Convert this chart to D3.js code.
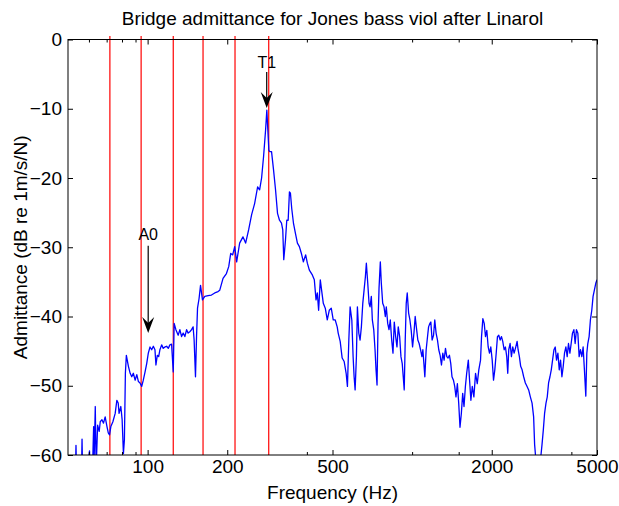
<!DOCTYPE html>
<html><head><meta charset="utf-8">
<script src="https://cdn.jsdelivr.net/npm/d3@7/dist/d3.min.js"></script>
<style>
body{margin:0;background:#fff}
text{font-family:Arial,"Liberation Sans",Helvetica,sans-serif;fill:#000}
</style></head>
<body><svg id="chart" width="619" height="506"></svg>
<script>
// ---- data ----
const freqHz = [
50,51.9,53.3,53.6,53.9,56.2,56.5,56.8,58.6,60.3,60.7,61.9,62.5,62.8,63.4,63.9,64.7,65.6,66.2,67.2,
68.1,69.1,70.2,71.0,71.8,72.6,73.9,75.4,76.5,77.4,78.0,79.2,80.1,81.0,81.7,82.4,83.1,84.6,85.9,87.1,
88.3,89.7,91.0,92.3,93.6,95.0,96.3,97.8,99.2,100.6,102.1,103.6,105.1,106.6,107.5,108.8,110.1,111.3,113.0,114.6,
116.3,118.0,119.7,121.4,123.2,125.0,126.0,127.9,130.5,132.4,134.4,136.3,138.3,140.4,142.3,144.4,146.6,148.6,149.9,151.7,
153.1,154.4,156.5,158.5,161.2,164.5,169.3,174.3,179.4,184.6,187.4,192.8,198.6,202.6,206.1,209.7,213.4,217.1,222.8,229.3,
234.7,240.9,247.3,253.8,260.5,265.1,269.7,274.4,279.2,282.3,284.8,287.3,289.8,294.1,299.2,304.5,309.8,315.2,320.7,324.3,
327.1,332.0,335.8,339.9,343.7,346.7,350.6,355.9,362.1,368.4,374.8,381.4,388.0,395.8,401.7,408.7,419.5,426.8,433.2,438.1,
443.1,449.6,454.7,461.5,469.5,477.7,486.1,494.6,503.2,512.0,520.9,525.4,534.6,543.9,553.4,563.1,569.4,576.4,582.9,591.6,
598.3,603.5,608.8,615.7,621.0,628.6,635.7,642.9,650.8,658.2,665.6,671.4,679.6,687.3,693.3,701.2,707.3,716.0,724.1,730.4,
736.8,743.2,749.7,758.2,764.8,774.1,782.9,791.8,798.7,808.5,817.6,826.9,837.0,846.5,856.1,866.5,876.4,886.3,897.1,907.3,
917.6,925.6,933.6,941.8,950.0,958.3,970.0,981.0,992.1,1004,1016,1027,1040,1051,1063,1076,1089,1098,1108,1117,
1130,1140,1154,1167,1177,1190,1205,1218,1232,1247,1261,1276,1291,1306,1321,1337,1352,1367,1384,1400,
1415,1433,1449,1465,1483,1500,1517,1535,1553,1571,1590,1608,1631,1649,1668,1688,1712,1737,1763,1787,
1814,1830,1851,1873,1894,1916,1939,1961,1984,2008,2031,2054,2079,2102,2126,2152,2177,2201,2228,2253,
2279,2299,2319,2347,2374,2401,2430,2458,2494,2516,2544,2573,2605,2641,2680,2720,2758,2799,2841,2880,
2905,2941,2974,3008,3052,3098,3133,3168,3207,3243,3280,3320,3358,3396,3437,3476,3515,3558,3599,3640,
3684,3726,3768,3814,3857,3901,3949,3993,4039,4088,4134,4181,4232,4280,4329,4381,4431,4481,4536,4576,
4615,4668,4721,4778,4832,4887,4947,5000
];
const admittanceDb = [
-63,-63,-63,-58.6,-63,-63,-57.7,-63,-63,-59.4,-63,-62,-55.9,-60.5,-53.0,-62,-55.7,-56.6,-55.2,-54.9,
-55.4,-54.5,-55.9,-56.8,-57.1,-55.9,-55.2,-54.0,-52.1,-52.5,-54.0,-53.0,-54.9,-59.8,-57.8,-48.2,-45.6,-47.2,-48.2,-48.7,
-48.2,-49.2,-48.4,-49.4,-49.6,-50.1,-49.2,-48.0,-46.8,-45.3,-44.4,-44.8,-44.3,-44.8,-47.0,-45.6,-45.8,-44.8,-44.1,-44.6,
-44.4,-44.3,-44.6,-44.1,-44.0,-48.0,-41.0,-41.9,-42.7,-41.9,-42.9,-42.4,-42.9,-41.9,-42.4,-42.2,-41.9,-41.5,-43.4,-48.7,
-42.9,-38.8,-37.4,-35.5,-37.6,-37.1,-37.0,-36.9,-36.6,-36.4,-36.2,-34.5,-33.8,-32.8,-30.9,-31.1,-29.9,-32.1,-29.4,-28.5,
-29.4,-27.5,-25.3,-23.7,-21.3,-21.7,-20.0,-16.9,-13.1,-10.2,-13.1,-16.0,-16.2,-16.2,-18.8,-21.7,-25.1,-26.1,-26.5,-27.5,
-31.8,-29.0,-26.1,-26.1,-22.0,-22.2,-24.4,-26.5,-28.0,-29.4,-29.9,-30.9,-32.1,-31.1,-32.3,-33.3,-34.0,-34.7,-37.6,-36.6,
-39.1,-34.7,-36.2,-38.1,-38.8,-40.5,-39.1,-38.8,-40.5,-40.5,-41.5,-42.4,-43.6,-46.0,-46.5,-48.2,-50.1,-43.4,-38.6,-40.5,
-45.8,-48.7,-50.6,-45.8,-38.6,-42.4,-43.4,-41.5,-38.1,-36.2,-34.3,-32.3,-35.2,-38.1,-38.6,-37.1,-40.5,-41.9,-44.8,-47.7,
-49.9,-41.0,-35.9,-32.1,-35.2,-38.1,-38.6,-40.0,-38.6,-41.0,-41.9,-40.5,-43.4,-45.3,-40.8,-42.9,-44.4,-41.5,-42.9,-45.8,
-46.8,-48.7,-50.6,-43.4,-38.1,-36.6,-39.5,-40.5,-42.0,-44.4,-42.4,-40.0,-41.9,-43.4,-43.9,-44.8,-45.8,-44.8,-46.8,-48.7,
-44.8,-43.4,-41.5,-41.0,-40.8,-43.4,-42.7,-40.5,-42.4,-43.4,-44.8,-45.6,-47.0,-45.3,-46.3,-44.6,-45.8,-46.0,-45.6,-46.8,
-48.7,-49.2,-50.1,-51.6,-49.7,-52.5,-56.0,-54.0,-51.1,-53.0,-50.1,-48.2,-46.3,-49.2,-52.1,-50.1,-51.6,-48.2,-49.7,-47.7,
-46.3,-42.9,-40.3,-41.0,-42.9,-42.0,-44.4,-45.3,-44.4,-46.3,-49.2,-47.7,-45.3,-42.9,-42.7,-43.4,-42.9,-43.6,-44.8,-44.4,
-45.8,-48.2,-44.8,-43.9,-45.8,-44.4,-45.3,-44.6,-43.6,-44.8,-45.8,-47.2,-47.7,-48.7,-49.6,-50.1,-50.6,-51.6,-52.5,-54.5,
-58.5,-61.0,-62.0,-61.5,-61.0,-58.5,-56.4,-54.0,-52.5,-51.6,-49.6,-48.7,-47.7,-46.3,-44.8,-44.4,-46.3,-45.3,-47.7,-46.3,
-48.7,-47.2,-45.3,-44.4,-45.8,-43.9,-45.3,-43.9,-42.4,-41.9,-43.9,-41.9,-42.4,-45.8,-44.8,-45.8,-44.4,-47.7,-51.5,-45.3,
-43.9,-42.9,-40.5,-39.1,-37.1,-36.2,-35.2,-34.7
];
const resonanceHz = [72, 94.5, 125, 162, 214, 287];
const xTickMajor = [100, 200, 500, 2000, 5000];
const xTickMinor = [60, 70, 80, 90, 400, 1000, 1500, 4000];
const yTicks = [0, -10, -20, -30, -40, -50, -60];
const annotLabels = ["A0", "T1"];
const annotHz = [100.5, 282];
const annotTextDb = [-29.0, -4.1];
const annotTailDb = [-29.8, -4.7];
const annotHeadDb = [-42.4, -9.9];
const titleText = "Bridge admittance for Jones bass viol after Linarol";
const xLabel = "Frequency (Hz)";
const yLabel = "Admittance (dB re 1m/s/N)";

// ---- layout ----
const L = 68, R = 597, T = 39.5, B = 455;
const FS = 19;
const svg = d3.select("#chart");
const x = d3.scaleLog().domain([50, 5000]).range([L, R]);
const y = d3.scaleLinear().domain([-60, 0]).range([B, T]);

svg.append("defs").append("clipPath").attr("id","clip")
  .append("rect").attr("x",L).attr("y",T).attr("width",R-L).attr("height",B-T);

// resonance lines
svg.append("g").selectAll("line").data(resonanceHz).join("line")
  .attr("x1",d=>x(d)).attr("x2",d=>x(d))
  .attr("y1",y(0.5)).attr("y2",y(-60))
  .attr("stroke","#ff0000").attr("stroke-width",1.2);

// data line
const pts = d3.zip(freqHz, admittanceDb);
svg.append("path").datum(pts)
  .attr("clip-path","url(#clip)")
  .attr("fill","none").attr("stroke","#0000ff").attr("stroke-width",1.3)
  .attr("stroke-linejoin","round")
  .attr("d", d3.line().x(d=>x(d[0])).y(d=>y(d[1])));

// axes
function style(g){
  g.select(".domain").remove();
  g.selectAll("line").attr("stroke","#000");
  g.selectAll("text").attr("font-size",FS).attr("font-family","Arial, 'Liberation Sans', sans-serif");
}
svg.append("g").attr("transform",`translate(0,${B})`)
  .call(d3.axisBottom(x).tickValues(xTickMajor).tickSize(-5).tickPadding(5).tickFormat(d3.format("d"))).call(style);
svg.append("g").attr("transform",`translate(0,${B})`)
  .call(d3.axisBottom(x).tickValues(xTickMinor).tickSize(-3).tickFormat("")).call(style);
svg.append("g").attr("transform",`translate(0,${T})`)
  .call(d3.axisTop(x).tickValues(xTickMajor).tickSize(-5).tickFormat("")).call(style);
svg.append("g").attr("transform",`translate(0,${T})`)
  .call(d3.axisTop(x).tickValues(xTickMinor).tickSize(-3).tickFormat("")).call(style);
svg.append("g").attr("transform",`translate(${L},0)`)
  .call(d3.axisLeft(y).tickValues(yTicks).tickSize(-5).tickPadding(6).tickFormat(d3.format("d"))).call(style);
svg.append("g").attr("transform",`translate(${R},0)`)
  .call(d3.axisRight(y).tickValues(yTicks).tickSize(-5).tickFormat("")).call(style);

svg.append("rect").attr("x",L).attr("y",T).attr("width",R-L).attr("height",B-T)
  .attr("fill","none").attr("stroke","#000").attr("stroke-width",1);

// annotations
annotLabels.forEach((lab,i)=>{
  const ax = x(annotHz[i]);
  const y0 = y(annotTailDb[i]), y1 = y(annotHeadDb[i]);
  svg.append("line").attr("x1",ax).attr("x2",ax).attr("y1",y0).attr("y2",y1-8)
    .attr("stroke","#000").attr("stroke-width",1.2);
  svg.append("path")
    .attr("d",`M${ax},${y1} L${ax-6},${y1-16} L${ax},${y1-10} L${ax+6},${y1-16} Z`)
    .attr("fill","#000");
  svg.append("text").attr("x",x(annotHz[i])).attr("y",y(annotTextDb[i]))
    .attr("text-anchor","middle").attr("font-size",FS-3).text(lab);
});

// titles
svg.append("text").attr("x",(L+R)/2).attr("y",25).attr("text-anchor","middle")
  .attr("font-size",FS).text(titleText);
svg.append("text").attr("x",(L+R)/2).attr("y",499).attr("text-anchor","middle")
  .attr("font-size",FS).text(xLabel);
svg.append("text").attr("transform",`translate(27,${(T+B)/2}) rotate(-90)`)
  .attr("text-anchor","middle").attr("font-size",FS).text(yLabel);
</script></body></html>
